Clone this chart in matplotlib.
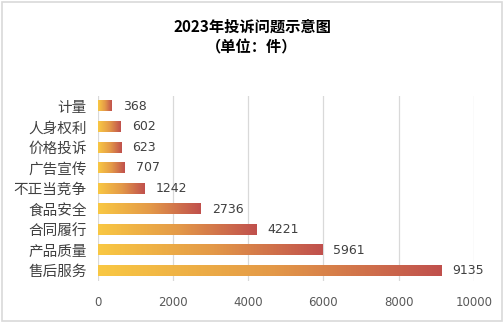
import matplotlib
matplotlib.use("Agg")
import matplotlib.pyplot as plt
import numpy as np
from matplotlib.colors import LinearSegmentedColormap
from matplotlib.patches import Rectangle

plt.rcParams['font.family'] = ['Noto Sans CJK SC', 'DejaVu Sans']

categories = ["售后服务", "产品质量", "合同履行", "食品安全", "不正当竞争", "广告宣传", "价格投诉", "人身权利", "计量"]
values = [9135, 5961, 4221, 2736, 1242, 707, 623, 602, 368]
xticks = [0, 2000, 4000, 6000, 8000, 10000]
title = "2023年投诉问题示意图\n（单位：件）"

fig = plt.figure(figsize=(5.04, 3.22), dpi=100)
fig.patch.set_facecolor("white")
fig.patches.append(Rectangle((0.004, 0.004), 0.992, 0.99, transform=fig.transFigure,
                             fill=False, edgecolor="#D9D9D9", linewidth=1.2))

ax = fig.add_axes([0.194, 0.127, 0.746, 0.575])
cmap = LinearSegmentedColormap.from_list("g", ["#F9C843", "#E49A48", "#C0504D"])
grad = np.linspace(0, 1, 256).reshape(1, -1)
h = 0.5
for i, v in enumerate(values):
    ax.imshow(grad, extent=[0, v, i - h / 2, i + h / 2], aspect="auto", cmap=cmap,
              interpolation="bicubic", zorder=3)
    ax.text(v + 300, i, f"{v}", va="center", ha="left", fontsize=9, color="#404040",
            family=["DejaVu Sans"], zorder=4)

ax.set_xlim(0, 10000)
ax.set_ylim(-0.5, len(values) - 0.5)
ax.set_yticks(range(len(values)))
ax.set_yticklabels(categories, fontsize=10.5, color="#404040")
ax.set_xticks(xticks)
ax.set_xticklabels([str(t) for t in xticks], fontsize=8.5, color="#595959", family=["DejaVu Sans"])
ax.tick_params(axis="both", length=0)
ax.tick_params(axis="x", pad=11)
ax.tick_params(axis="y", pad=8)
ax.grid(axis="x", color="#D9D9D9", linewidth=0.9, zorder=0)
ax.set_axisbelow(True)
for s in ax.spines.values():
    s.set_visible(False)

fig.text(0.5, 0.885, title, ha="center", va="center", fontsize=11, fontweight="bold",
         color="#000000", linespacing=1.3)

fig.savefig("out.png", dpi=100)
